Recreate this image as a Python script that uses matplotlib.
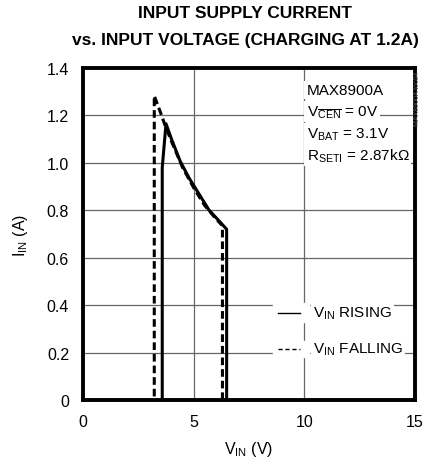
import matplotlib
matplotlib.use("Agg")
import matplotlib.pyplot as plt

FONT = "Liberation Sans"
plt.rcParams['font.family'] = [FONT, 'DejaVu Sans']
plt.rcParams['mathtext.fontset'] = 'custom'
plt.rcParams['mathtext.rm'] = FONT

# Data
rising_v = [3.58, 3.58, 3.75, 4.0, 4.4, 4.8, 5.2, 5.7, 6.1, 6.49, 6.49]
rising_i = [0.0, 0.98, 1.165, 1.10, 1.005, 0.935, 0.875, 0.80, 0.76, 0.72, 0.0]
falling_v = [6.3, 6.3, 6.0, 5.5, 5.0, 4.5, 4.0, 3.7, 3.55, 3.22, 3.22]
falling_i = [0.0, 0.735, 0.765, 0.82, 0.895, 0.98, 1.09, 1.16, 1.20, 1.283, 0.0]
x_ticks = [0, 5, 10, 15]
y_ticks = [0, 0.2, 0.4, 0.6, 0.8, 1.0, 1.2, 1.4]
y_ticklabels = ["0", "0.2", "0.4", "0.6", "0.8", "1.0", "1.2", "1.4"]

fig = plt.figure(figsize=(4.24, 4.64), dpi=100)
ax = fig.add_axes([83/424, 1-401/464, (415-83)/424, (401-69)/464])
ax.set_xlim(0, 15)
ax.set_ylim(0, 1.4)
ax.set_xticks(x_ticks)
ax.set_yticks(y_ticks)
ax.set_yticklabels(y_ticklabels)
ax.tick_params(length=0, labelsize=11.5, pad=10)
ax.grid(True, color="#666666", linewidth=0.9)
ax.set_axisbelow(True)
for s in ax.spines.values():
    s.set_linewidth(2.8)

ax.plot(rising_v, rising_i, color="black", linewidth=2.2, solid_joinstyle="round")
ax.plot(falling_v, falling_i, color="black", linewidth=2.2, linestyle=(0, (2.5, 1.3)))

ax.set_xlabel(r"V$_{\mathrm{IN}}$ (V)", fontsize=11.5, labelpad=7)
ax.set_ylabel(r"I$_{\mathrm{IN}}$ (A)", fontsize=11.5, labelpad=12)

fig.text(0.578, 1-6/464, "INPUT SUPPLY CURRENT", ha="center", va="top",
         fontsize=12.5, fontweight="bold")
fig.text(0.578, 1-33/464, "vs. INPUT VOLTAGE (CHARGING AT 1.2A)", ha="center", va="top",
         fontsize=12.5, fontweight="bold")

# annotation box
bbox = dict(facecolor="white", edgecolor="none", pad=1.5)
tx = 10.1
ax.text(tx, 1.307, "MAX8900A", fontsize=11, va="center", bbox=bbox)
ax.text(tx, 1.218, r"V$_{\overline{\mathrm{CEN}}}$ = 0V", fontsize=11, va="center", bbox=bbox)
ax.text(tx, 1.125, r"V$_{\mathrm{BAT}}$ = 3.1V", fontsize=11, va="center", bbox=bbox)
ax.text(tx, 1.032, r"R$_{\mathrm{SETI}}$ = 2.87k$\Omega$", fontsize=11, va="center", bbox=bbox)

# legend
ax.fill_between([8.6, 10.2], 0.33, 0.41, color="white", zorder=1.5)
ax.fill_between([8.6, 10.2], 0.18, 0.25, color="white", zorder=1.5)
ax.plot([8.8, 9.8], [0.368, 0.368], color="black", linewidth=1.0, zorder=2)
ax.plot([8.8, 9.8], [0.216, 0.216], color="black", linewidth=1.0, linestyle=(0, (3, 2)), zorder=2)
ax.text(10.4, 0.368, r"V$_{\mathrm{IN}}$ RISING", fontsize=11, va="center", bbox=bbox)
ax.text(10.4, 0.216, r"V$_{\mathrm{IN}}$ FALLING", fontsize=11, va="center", bbox=bbox)

fig.text(0.992, 1-72/464, "MAX8900A toc04", rotation=90, fontsize=5, color="#555555",
         ha="right", va="top")

fig.savefig("out.png", dpi=100)
